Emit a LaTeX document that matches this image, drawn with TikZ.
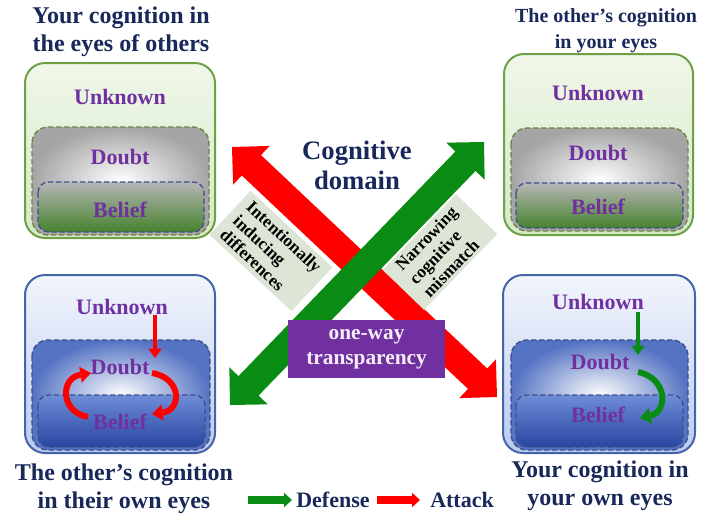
\documentclass[tikz,border=0pt]{standalone}
\usepackage{fontspec}
\setmainfont{Liberation Serif}
\usetikzlibrary{calc,arrows.meta}
\definecolor{navy}{RGB}{25,40,90}
\definecolor{lblpurple}{RGB}{112,48,160}
\definecolor{agreen}{RGB}{10,140,20}
\definecolor{ared}{RGB}{255,0,0}
\definecolor{gborder}{RGB}{110,160,70}
\definecolor{gdash}{RGB}{110,130,70}
\definecolor{bdash}{RGB}{60,80,140}
\definecolor{bborder}{RGB}{70,100,170}
\definecolor{labelfill}{RGB}{221,229,214}
\definecolor{purplebox}{RGB}{112,48,160}
\definecolor{lavtext}{RGB}{245,238,250}
\definecolor{gtop}{RGB}{240,247,233}
\definecolor{gbot}{RGB}{212,233,198}
\definecolor{btop}{RGB}{242,245,252}
\definecolor{bbot}{RGB}{186,202,240}
\definecolor{grayout}{RGB}{165,165,165}
\definecolor{belgtop}{RGB}{182,182,182}
\definecolor{belgmid}{RGB}{150,155,145}
\definecolor{belgbot}{RGB}{70,130,45}
\definecolor{blueout}{RGB}{85,115,195}
\definecolor{belbtop}{RGB}{110,140,215}
\definecolor{belbbot}{RGB}{40,70,160}
\newcommand\fatarrow[3]{%
  \path ($(#2)!20pt!(#3)$) coordinate (h1) ($(#3)!20pt!(#2)$) coordinate (h2);
  \fill[#1] (#2) -- ($(h1)!20pt!90:(#2)$) -- ($(h1)!10.5pt!90:(#2)$)
    -- ($(h2)!10.5pt!-90:(#3)$) -- ($(h2)!20pt!-90:(#3)$) -- (#3)
    -- ($(h2)!20pt!90:(#3)$) -- ($(h2)!10.5pt!90:(#3)$)
    -- ($(h1)!10.5pt!-90:(#2)$) -- ($(h1)!20pt!-90:(#2)$) -- cycle;}
\begin{document}
\begin{tikzpicture}[x=0.75pt,y=-0.75pt,
  ttl/.style={font=\bfseries\fontsize{18}{21}\selectfont, text=navy, align=center, inner sep=0pt},
  lbl/.style={font=\bfseries\fontsize{16.5}{19}\selectfont, text=lblpurple, inner sep=0pt},
  outerg/.style={rounded corners=15pt, draw=gborder, line width=1.5pt, top color=gtop, bottom color=gbot},
  outerb/.style={rounded corners=15pt, draw=bborder, line width=1.5pt, top color=btop, bottom color=bbot},
  doubtg/.style={rounded corners=12pt, draw=gdash, line width=1pt, dash pattern=on 4pt off 2pt, inner color=white, outer color=grayout},
  beliefg/.style={rounded corners=8pt, draw=bdash, line width=1pt, dash pattern=on 4pt off 2pt, top color=belgtop, middle color=belgmid, bottom color=belgbot},
  doubtb/.style={rounded corners=12pt, draw=bdash, line width=1pt, dash pattern=on 4pt off 2pt, inner color=white, outer color=blueout},
  beliefb/.style={rounded corners=8pt, draw=bdash, line width=1pt, dash pattern=on 4pt off 2pt, top color=belbtop, bottom color=belbbot},
  lblbox/.style={fill=labelfill, font=\bfseries\fontsize{13}{14.5}\selectfont, align=left, inner sep=2pt},
  smallarr/.style={line width=3.5pt, -{Triangle[length=7pt,width=10pt,line width=0pt]}},
  curvarr/.style={line width=4.5pt, -{Triangle[length=8pt,width=12pt,line width=0pt]}},
  legarr/.style={line width=6pt, -{Triangle[length=6pt,width=11pt,line width=0pt]}}
]
\useasboundingbox (0,0) rectangle (713,515);
\fill[white] (0,0) rectangle (713,515);

% ---- top-left box
\draw[outerg] (25,63) rectangle (215,238);
\draw[doubtg] (32,127) rectangle (209,235);
\draw[beliefg] (38,182) rectangle (204,232);
\node[lbl] (unk1) at (120,97) {Unknown};
\node[lbl] (dou1) at (120,157) {Doubt};
\node[lbl] (bel1) at (120,210) {Belief};
\node[ttl] (t1) at (121,32) {Your cognition in\\the eyes of others};

% ---- top-right box
\draw[outerg] (504,54) rectangle (693,235);
\draw[doubtg] (511,128) rectangle (688,231);
\draw[beliefg] (516,183) rectangle (683,228);
\node[lbl] (unk2) at (598,93) {Unknown};
\node[lbl] (dou2) at (598,153) {Doubt};
\node[lbl] (bel2) at (598,207) {Belief};
\node[ttl, font=\bfseries\fontsize{15}{19.5}\selectfont] (t2) at (606,31) {The other's cognition\\in your eyes};

% ---- bottom-left box
\draw[outerb] (25,275) rectangle (215,453);
\draw[doubtb] (32,340) rectangle (210,450);
\draw[beliefb] (38,395) rectangle (205,447);
\node[lbl] (unk3) at (122,307) {Unknown};
\node[lbl] (dou3) at (120,367) {Doubt};
\node[lbl] (bel3) at (120,422) {Belief};
\node[ttl] (t3) at (124,489) {The other's cognition\\in their own eyes};
\coordinate (a3s) at (155,315);
\coordinate (a3e) at (155,358);
\draw[smallarr, ared] (a3s) -- (a3e);
\coordinate (c3a) at (88,417);
\coordinate (c3b) at (91,373);
\draw[curvarr, ared] (c3a) .. controls (60,412) and (60,378) .. (c3b);
\coordinate (c3c) at (152,373);
\coordinate (c3d) at (152,414);
\draw[curvarr, ared] (c3c) .. controls (182,378) and (182,410) .. (c3d);

% ---- bottom-right box
\draw[outerb] (503,275) rectangle (695,453);
\draw[doubtb] (511,340) rectangle (688,450);
\draw[beliefb] (516,395) rectangle (683,447);
\node[lbl] (unk4) at (598,302) {Unknown};
\node[lbl] (dou4) at (600,362) {Doubt};
\node[lbl] (bel4) at (598,415) {Belief};
\node[ttl] (t4) at (600,486) {Your cognition in\\your own eyes};
\coordinate (a4s) at (638,312);
\coordinate (a4e) at (638,355);
\draw[smallarr, agreen] (a4s) -- (a4e);
\coordinate (c4a) at (638,372);
\coordinate (c4b) at (640,418);
\draw[curvarr, agreen] (c4a) .. controls (668,378) and (668,412) .. (c4b);

% ---- central cross
\coordinate (rA) at (232,147);
\coordinate (rB) at (497,397);
\coordinate (gA) at (230,405);
\coordinate (gB) at (484,142);
\fatarrow{ared}{rA}{rB}
\fatarrow{agreen}{gA}{gB}
\node[lblbox, rotate=-43, minimum width=84pt, minimum height=45pt] (lab1) at (271,251) {Intentionally\\inducing\\differences};
\node[lblbox, rotate=46, minimum width=79pt, minimum height=43pt] (lab2) at (440,252) {Narrowing\\cognitive\\mismatch};
\node[font=\bfseries\fontsize{20}{22.5}\selectfont, text=navy, align=center, inner sep=0pt] (cd) at (357,165) {Cognitive\\domain};
\node[fill=purplebox, text=lavtext, font=\bfseries\fontsize{16}{19}\selectfont, align=center, minimum width=118pt, minimum height=43.5pt, inner sep=0pt] (owt) at (366.5,349) {one-way\\transparency};

% ---- legend
\coordinate (l1s) at (248,500);
\coordinate (l1e) at (292,500);
\draw[legarr, agreen] (l1s) -- (l1e);
\node[font=\bfseries\fontsize{16.5}{19}\selectfont, text=navy, anchor=west, inner sep=0pt] (def) at (296,500) {Defense};
\coordinate (l2s) at (377,500);
\coordinate (l2e) at (420,500);
\draw[legarr, ared] (l2s) -- (l2e);
\node[font=\bfseries\fontsize{16.5}{19}\selectfont, text=navy, anchor=west, inner sep=0pt] (att) at (430,500) {Attack};
\end{tikzpicture}
\end{document}
